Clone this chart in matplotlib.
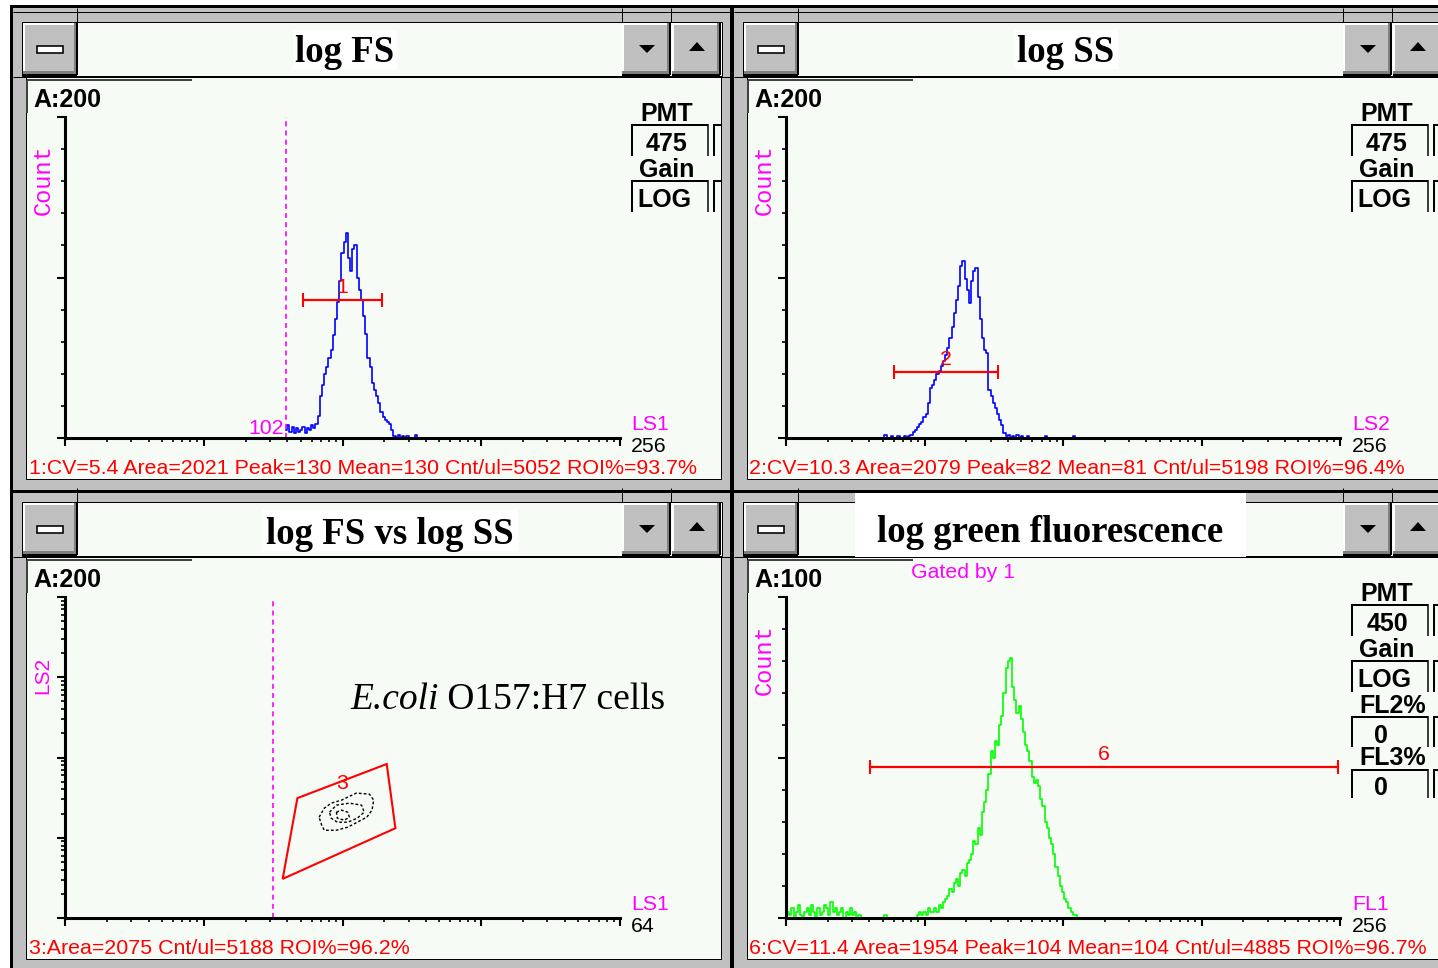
import numpy as np
import matplotlib
matplotlib.use("Agg")
import matplotlib.pyplot as plt
from matplotlib.patches import Rectangle, Polygon

# ---------------- data ----------------
# log FS histogram (channel 0..256, counts 0..200)
fs_start = 102
fs_counts = [5, 8, 4, 7, 3, 6, 4, 5, 7, 3,
             6, 5, 8, 6, 9, 14, 26, 33, 40, 44,
             50, 55, 64, 74, 85, 98, 115, 122, 128, 112,
             104, 118, 120, 100, 92, 86, 76, 65, 50, 44,
             34, 30, 26, 22, 16, 13, 11, 10, 9, 5,
             1, 0, 2, 0, 1, 0, 1, 0, 0, 0, 2, 0]
# log SS histogram
ss_start = 44
ss_counts = [0, 0, 2, 0, 0, 1, 0, 0, 1, 0,
             0, 1, 0, 1, 2, 4, 5, 7, 9, 10,
             13, 15, 22, 31, 33, 36, 40, 42, 45, 48,
             52, 56, 62, 69, 78, 86, 95, 107, 110, 99,
             92, 84, 98, 104, 106, 88, 74, 62, 55, 53,
             30, 26, 22, 19, 15, 11, 8, 3, 1, 2,
             0, 1, 0, 2, 0, 1, 0, 0, 1, 0,
             0, 0, 0, 0, 0, 0, 1, 0, 0, 0,
             0, 0, 0, 0, 0, 0, 0, 0, 0, 1, 0]
# log green fluorescence histogram (counts 0..100)
fl1_start = 0
fl1_counts = [5, 2, 1, 3, 0, 2, 4, 1, 0, 2,
              3, 1, 4, 2, 0, 3, 1, 2, 4, 3,
              1, 5, 2, 3, 1, 2, 3, 0, 2, 1,
              3, 1, 2, 0, 1, 0, 0, 0, 0, 0,
              0, 0, 0, 0, 0, 0, 1, 0, 0, 0,
              0, 0, 0, 0, 0, 0, 0, 0, 0, 0,
              0, 1, 2, 1, 2, 1, 3, 2, 2, 3,
              2, 4, 3, 5, 6, 7, 9, 8, 11, 12,
              10, 14, 15, 13, 17, 18, 20, 24, 23, 28,
              26, 33, 36, 40, 45, 52, 50, 55, 54, 60,
              63, 70, 78, 80, 81, 72, 68, 64, 66, 62,
              58, 54, 52, 49, 44, 42, 43, 41, 37, 35,
              30, 28, 25, 23, 20, 16, 13, 10, 8, 6,
              5, 3, 2, 1, 1, 0, 0]

# gates: (start channel, end channel, display height)
gate_fs = (110, 146, 86)
gate_ss = (50, 98, 41)
gate_fl1 = (39, 255, 47)
fs_threshold = 102
scatter_threshold = 24

# FS vs SS (64 x 64 channels)
region3_x = [26.8, 37.1, 38.1, 25.1]
region3_y = [23.9, 30.7, 17.9, 7.8]
contour_outer_x = [29.3, 29.9, 30.7, 31.9, 32.6, 33.6, 35.1, 35.6, 35.4, 34.8, 33.7, 32.6, 31.3, 29.9, 29.6]
contour_outer_y = [20.1, 21.9, 22.9, 23.5, 24.1, 24.9, 24.7, 23.5, 21.5, 20.1, 19.1, 18.1, 17.5, 17.5, 18.5]
contour_mid_x = [30.5, 31.3, 32.8, 34.2, 34.5, 33.7, 32.6, 31.4, 30.7]
contour_mid_y = [21.1, 22.5, 22.9, 22.5, 21.1, 19.9, 19.1, 19.1, 19.9]
contour_in_x = [31.3, 31.9, 32.6, 32.8, 32.2, 31.4]
contour_in_y = [21.1, 21.5, 21.1, 20.1, 19.5, 19.9]

titles = ["log FS", "log SS", "log FS vs log SS", "log green fluorescence"]
stats = ["1:CV=5.4 Area=2021 Peak=130 Mean=130 Cnt/ul=5052 ROI%=93.7%",
         "2:CV=10.3 Area=2079 Peak=82 Mean=81 Cnt/ul=5198 ROI%=96.4%",
         "3:Area=2075 Cnt/ul=5188 ROI%=96.2%",
         "6:CV=11.4 Area=1954 Peak=104 Mean=104 Cnt/ul=4885 ROI%=96.7%"]

# ---------------- figure & chrome ----------------
W, H = 1438, 968
fig = plt.figure(figsize=(W / 100, H / 100), dpi=100)
fig.patch.set_facecolor("white")
bg = fig.add_axes([0, 0, 1, 1])
bg.set_xlim(0, W)
bg.set_ylim(H, 0)
bg.axis("off")

GRAY = "#c0c0c0"
DARK = "#808080"
PBG = "#f6fbf6"
RED = "#ff0000"
MAG = "#ff00ff"
PX = 0.72  # points per pixel


def rect(x0, y0, x1, y1, fc, ec="none", lw=0.0, z=1):
    bg.add_patch(Rectangle((x0, y0), x1 - x0, y1 - y0, facecolor=fc,
                           edgecolor=ec, linewidth=lw * PX, zorder=z))


def line(xs, ys, c="black", lw=1.0, z=3):
    bg.plot(xs, ys, color=c, lw=lw * PX, solid_capstyle="butt", zorder=z)


def T(x, y, s, size, color="black", ha="left", va="center", weight="normal",
      family="Liberation Sans", **kw):
    return bg.text(x, y, s, fontsize=size, color=color, ha=ha, va=va,
                   fontweight=weight, family=family, zorder=6, **kw)


def button(x0, y0, x1, y1):
    rect(x0, y0, x1, y1, GRAY, z=2)
    rect(x0, y0, x1, y0 + 2, "white", z=2)
    rect(x0, y0, x0 + 2, y1, "white", z=2)
    rect(x0, y1 - 4, x1, y1, DARK, z=2)
    rect(x1 - 3, y0, x1, y1, DARK, z=2)
    rect(x1 - 1.5, y0, x1 + 0.5, y1, "black", z=2)
    rect(x0, y1 - 1, x1, y1 + 0.5, "black", z=2)


# whole background frame
rect(10, 5, W + 5, H + 5, GRAY, z=0)
rect(10, 4.5, W + 5, 7.5, "black", z=1)
rect(10, 5, 13, H + 5, "black", z=1)
rect(730, 5, 734, H + 5, "black", z=1)
rect(10, 490, W + 5, 493, "black", z=1)

for (dx, dy) in [(0, 0), (721, 0), (0, 480), (721, 480)]:
    right = 722 if dx == 0 else W + 20
    # frame thin lines
    line([13 + dx, right + 9], [12 + dy, 12 + dy], lw=1)
    for xv in (77, 622, 671):
        line([xv + dx, xv + dx], [7.5 + dy, 22 + dy], lw=1)
    line([13 + dx, right + 9], [76.5 + dy, 76.5 + dy], lw=1)
    # title bar
    rect(22 + dx, 22 + dy, right, 76 + dy, PBG, ec="black", lw=1, z=1)
    button(23 + dx, 23 + dy, 77 + dx, 75 + dy)
    button(622 + dx, 23 + dy, 670 + dx, 75 + dy)
    button(672 + dx, 23 + dy, 720 + dx, 75 + dy)
    # minus glyph
    rect(37 + dx, 46 + dy, 63 + dx, 53 + dy, "white", ec="black", lw=1.6, z=4)
    # arrows
    cx, cy = 647 + dx, 49 + dy
    bg.add_patch(Polygon([(cx - 8, cy - 4), (cx + 8, cy - 4), (cx, cy + 4)],
                         closed=True, facecolor="black", edgecolor="none", zorder=4))
    cx, cy = 697 + dx, 46.5 + dy
    bg.add_patch(Polygon([(cx - 8, cy + 4.5), (cx + 8, cy + 4.5), (cx, cy - 4.5)],
                         closed=True, facecolor="black", edgecolor="none", zorder=4))
    # plot area
    rect(26 + dx, 77 + dy, (721 if dx == 0 else W + 20), 479 + dy, PBG,
         ec="black", lw=1, z=1)
    # "A:" frame
    line([27 + dx, 192 + dx], [80 + dy, 80 + dy], c="#404040", lw=2)
    line([27 + dx, 27 + dx], [80 + dy, 113 + dy], c="#404040", lw=2)

# title boxes (white) and titles
title_boxes = [(293, 30, 397, 69, 345, 53), (1014, 30, 1118, 69, 1066, 53),
               (262, 510, 518, 551, 390, 535), (855, 493, 1246, 557, 1050, 532)]
for (x0, y0, x1, y1, cx, cy), t in zip(title_boxes, titles):
    rect(x0, y0, x1, y1, "white", z=5)
    T(cx, cy, t, 26.5, ha="center", weight="bold", family="Liberation Serif")

# A: labels
for x, y, s in [(33, 100, "A:200"), (754, 100, "A:200"), (33, 580, "A:200"), (754, 580, "A:100")]:
    T(x, y, s, 18, weight="bold")

# Count / LS2 vertical labels
for x, y, s in [(43, 180, "Count"), (764, 180, "Count"), (764, 660, "Count"), (43, 675, "LS2")]:
    if s == "Count":
        T(x, y, s, 17, color=MAG, ha="center", rotation=90, family="Liberation Mono")
    else:
        T(x, y, s, 15, color=MAG, ha="center", rotation=90)


def pmt_box(x0, y0, y1, xr):
    line([x0, x0], [y0, y1], lw=2)
    line([x0, x0 + 76], [y0 + 0.5, y0 + 0.5], lw=2)
    line([x0 + 76, x0 + 76], [y0, y1], lw=1.5)
    line([x0 + 82, x0 + 82], [y0, y1], lw=2)
    line([x0 + 82, xr], [y0 + 0.5, y0 + 0.5], lw=2)


for dx, dy, xr, extra in [(0, 0, 721, False), (720, 0, W, False), (720, 480, W, True)]:
    cx = 667 + dx
    T(cx, 114 + dy, "PMT", 18, ha="center", weight="bold")
    pmt_box(632 + dx, 124 + dy, 156 + dy, xr)
    T(cx, 144 + dy, "450" if extra else "475", 18, ha="center", weight="bold")
    T(cx, 170 + dy, "Gain", 18, ha="center", weight="bold")
    pmt_box(632 + dx, 180 + dy, 212 + dy, xr)
    T(cx - 3, 200 + dy, "LOG", 18, ha="center", weight="bold")
    if extra:
        T(cx + 6, 226 + dy, "FL2%", 18, ha="center", weight="bold")
        pmt_box(632 + dx, 236 + dy, 267 + dy, xr)
        T(cx - 6, 256 + dy, "0", 18, ha="center", weight="bold")
        T(cx + 6, 278 + dy, "FL3%", 18, ha="center", weight="bold")
        pmt_box(632 + dx, 289 + dy, 318 + dy, xr)
        T(cx - 6, 308 + dy, "0", 18, ha="center", weight="bold")

# axis end labels
for x, y, s, c in [(631, 425, "LS1", MAG), (631, 446, "256", "black"),
                   (1352, 425, "LS2", MAG), (1352, 446, "256", "black"),
                   (631, 905, "LS1", MAG), (631, 927, "64", "black"),
                   (1352, 905, "FL1", MAG), (1352, 927, "256", "black")]:
    T(x, y, s, 15.3, color=c)
T(284, 429, "102", 15.3, color=MAG, ha="right")
T(911, 573, "Gated by 1", 15.3, color=MAG)

# stats lines
for (x, y), s in zip([(29, 469), (749, 469), (29, 949), (749, 949)], stats):
    T(x, y, s, 15.4, color=RED)

# E.coli label
t1 = T(350, 700, "E.coli", 27, family="Liberation Serif", style="italic")
bg.annotate(" O157:H7 cells", xy=(1, 0.5), xycoords=t1, va="center", ha="left",
            fontsize=27, family="Liberation Serif", zorder=6)


# ---------------- data axes ----------------
def data_axes(x0, x1, ytop, ybot, xmax, ymax, logy=False):
    ax = fig.add_axes([x0 / W, 1 - ybot / H, (x1 - x0) / W, (ybot - ytop) / H])
    ax.set_xlim(0, xmax)
    ax.set_ylim(0, ymax)
    ax.patch.set_alpha(0)
    for s in ("top", "right"):
        ax.spines[s].set_visible(False)
    for s in ("left", "bottom"):
        ax.spines[s].set_linewidth(2.2)
        ax.spines[s].set_color("black")
    dec = xmax / 4
    ax.set_xticks([dec * i for i in range(5)])
    ax.set_xticks([dec * (d + np.log10(k)) for d in range(4) for k in range(2, 10)], minor=True)
    if logy:
        dec = ymax / 4
        ax.set_yticks([dec * i for i in range(5)])
        ax.set_yticks([dec * (d + np.log10(k)) for d in range(4) for k in range(2, 10)], minor=True)
    else:
        ax.set_yticks([0, ymax / 2, ymax])
        ax.set_yticks([ymax / 10 * i for i in range(11)], minor=True)
    ax.tick_params(which="major", length=6, width=1.5, direction="out", color="black")
    ax.tick_params(which="minor", length=3, width=1.2, direction="out", color="black")
    ax.tick_params(labelbottom=False, labelleft=False)
    return ax


def gate(ax, g, label, color=RED):
    x0, x1, y = g
    ax.plot([x0, x1], [y, y], color=color, lw=1.6, marker="|", ms=10, mew=1.5,
            solid_capstyle="butt", clip_on=False)
    ax.annotate(label, xy=((x0 + x1) / 2, y), xytext=(0, 2), textcoords="offset points",
                ha="center", va="bottom", color=color, fontsize=15.3, family="Liberation Sans")


# top-left: log FS
ax1 = data_axes(65, 620, 117, 438, 256, 200)
ch = np.arange(fs_start, fs_start + len(fs_counts))
ax1.plot(ch, fs_counts, color="#0000ff", lw=1.2, drawstyle="steps-mid", clip_on=False)
ax1.plot([fs_threshold, fs_threshold], [0, 200], color=MAG, lw=1.2, ls=(0, (3, 2.5)))
gate(ax1, gate_fs, "1")

# top-right: log SS
ax2 = data_axes(786, 1340, 117, 438, 256, 200)
ch = np.arange(ss_start, ss_start + len(ss_counts))
ax2.plot(ch, ss_counts, color="#0000ff", lw=1.2, drawstyle="steps-mid", clip_on=False)
gate(ax2, gate_ss, "2")

# bottom-left: FS vs SS
ax3 = data_axes(65, 620, 597, 918, 64, 64, logy=True)
ax3.plot([scatter_threshold, scatter_threshold], [0, 63.4], color=MAG, lw=1.2, ls=(0, (3, 2.5)))
ax3.add_patch(Polygon(list(zip(region3_x, region3_y)), closed=True, fill=False,
                      edgecolor=RED, lw=1.5))
ax3.annotate("3", xy=(np.mean(region3_x[:2]), np.mean(region3_y[:2])), xytext=(0, -2),
             textcoords="offset points", ha="center", va="center", color=RED,
             fontsize=15.3, family="Liberation Sans")
for cx_, cy_ in [(contour_outer_x, contour_outer_y), (contour_mid_x, contour_mid_y),
                 (contour_in_x, contour_in_y)]:
    ax3.plot(cx_ + cx_[:1], cy_ + cy_[:1], color="black", lw=1.0, ls=(0, (2, 1.5)))

# bottom-right: log green fluorescence
ax4 = data_axes(786, 1340, 597, 918, 256, 100)
ch = np.arange(fl1_start, fl1_start + len(fl1_counts))
ax4.plot(ch, fl1_counts, color="#00ff00", lw=1.2, drawstyle="steps-mid", clip_on=False)
gate(ax4, gate_fl1, "6")

fig.savefig("out.png", dpi=100, facecolor="white")
